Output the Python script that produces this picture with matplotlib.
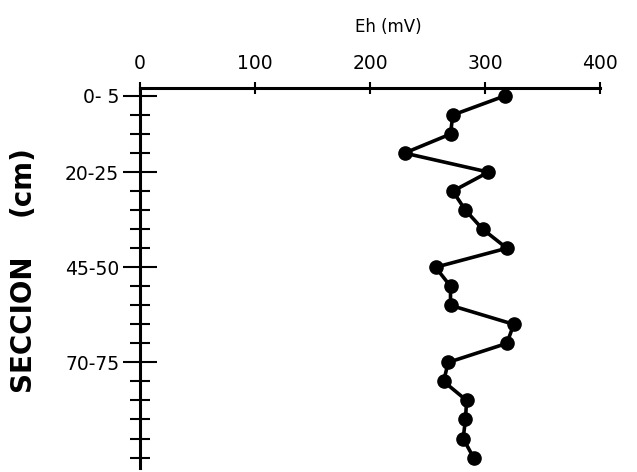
import matplotlib
matplotlib.use("Agg")
import matplotlib.pyplot as plt
import numpy as np

sections = ["0-5", "5-10", "10-15", "15-20", "20-25", "25-30", "30-35", "35-40",
            "40-45", "45-50", "50-55", "55-60", "60-65", "65-70", "70-75", "75-80",
            "80-85", "85-90", "90-95", "95-100"]
tick_labels = {0: "0- 5", 4: "20-25", 9: "45-50", 14: "70-75"}
eh_mv = [317, 272, 270, 230, 303, 272, 283, 298, 319, 257,
         270, 270, 325, 319, 268, 264, 284, 283, 281, 290]
x_ticks = [0, 100, 200, 300, 400]

fig = plt.figure(figsize=(6.37, 4.72), dpi=100)
ax = fig.add_axes([140/637, 4/472, 460/637, 380/472])

ypos = np.arange(len(sections))
ax.plot(eh_mv, ypos, color="black", linewidth=2.6, marker="o", markersize=9.5,
        markerfacecolor="black", markeredgecolor="black")

ax.set_xlim(0, 400)
ax.set_ylim(19.55, -0.42)

for s in ["right", "bottom"]:
    ax.spines[s].set_visible(False)
ax.spines["top"].set_linewidth(2.2)
ax.spines["left"].set_linewidth(2.2)

ax.xaxis.tick_top()
ax.set_xticks(x_ticks)
ax.set_xticklabels([str(v) for v in x_ticks], fontsize=13.5)
ax.tick_params(axis="x", direction="inout", length=9, width=1.5, pad=6)

ax.set_yticks(ypos)
ax.set_yticklabels([tick_labels.get(i, "") for i in range(len(sections))], fontsize=13.5)
ax.tick_params(axis="y", direction="inout", length=14, width=1.5, pad=8)
for i, t in enumerate(ax.yaxis.get_major_ticks()):
    if i in tick_labels:
        t.tick1line.set_markersize(25)

fig.text(388/637, 1 - 27/472, "Eh (mV)", ha="center", va="center", fontsize=12)
fig.text(22/637, 1 - 323/472, "SECCION", ha="center", va="center",
         rotation=90, fontsize=20, fontweight="bold")
fig.text(22/637, 1 - 181/472, "(cm)", ha="center", va="center",
         rotation=90, fontsize=20, fontweight="bold")

fig.savefig("out.png", dpi=100)
